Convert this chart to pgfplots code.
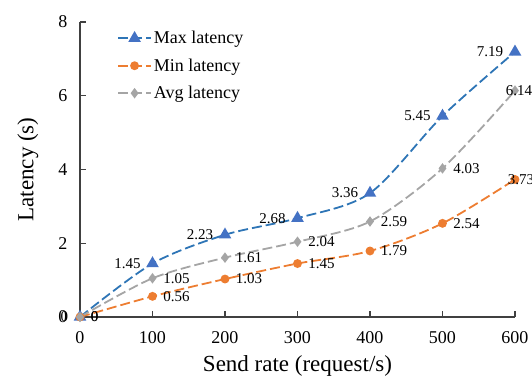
\documentclass[border=0pt]{standalone}
\usepackage{fontspec}
\setmainfont{Liberation Serif}
\usepackage{pgfplots}
\pgfplotsset{compat=1.18}
\pgfkeys{/pgf/number format/assume math mode=true}
\definecolor{maxline}{HTML}{2E75B6}
\definecolor{maxmark}{HTML}{4472C4}
\definecolor{minc}{HTML}{ED7D31}
\definecolor{avgc}{HTML}{A5A5A5}
\begin{document}
\begin{tikzpicture}
\begin{axis}[
  scale only axis, width=435bp, height=295bp,
  xmin=0, xmax=600, ymin=0, ymax=8,
  axis lines=left,
  axis line style={-, black!75, line width=1.1bp},
  xtick={0,100,...,600}, ytick={0,2,...,8},
  tick align=inside, major tick length=6bp,
  tick style={black!75, line width=1.1bp},
  tick label style={font=\fontsize{18bp}{20bp}\selectfont},
  xticklabel style={yshift=-11bp},
  yticklabel style={xshift=-9bp},
  xlabel={Send rate (request/s)}, ylabel={Latency (s)},
  label style={font=\fontsize{23bp}{26bp}\selectfont},
  xlabel style={at={(axis description cs:0.5,-0.166)}, anchor=center},
  ylabel style={at={(axis description cs:-0.12,0.5)}, anchor=center},
  legend style={at={(0.085,0.976)}, anchor=north west, draw=none, fill=none,
    inner sep=0pt, font=\fontsize{18bp}{20bp}\selectfont, row sep=9.5bp,
    cells={anchor=west}},
  legend image code/.code={\draw[mark repeat=2,mark phase=2,#1] plot coordinates {(0bp,0bp) (16.5bp,0bp) (33bp,0bp)};},
  nodes near coords,
  every node near coord/.append style={font=\fontsize{15bp}{17bp}\selectfont, inner sep=0pt, text=black},
  clip=false,
]
\addplot[maxline, line width=1.8bp, dash pattern=on 10bp off 4bp, smooth,
  mark=triangle*, mark size=5.5bp, mark options={solid, fill=maxmark, draw=maxmark},
  every node near coord/.append style={anchor=east, xshift=-11bp}]
  coordinates {(0,0) (100,1.45) (200,2.23) (300,2.68) (400,3.36) (500,5.45) (600,7.19)};
\addlegendentry{Max latency}
\addplot[minc, line width=1.8bp, dash pattern=on 10bp off 4bp, smooth,
  mark=*, mark size=3.5bp, mark options={solid, fill=minc, draw=minc},
  every node near coord/.append style={anchor=west, xshift=10bp},
  coordinate style/.condition={x>550}{xshift=-18bp}]
  coordinates {(0,0) (100,0.56) (200,1.03) (300,1.45) (400,1.79) (500,2.54) (600,3.73)};
\addlegendentry{Min latency}
\addplot[avgc, line width=1.8bp, dash pattern=on 10bp off 4bp, smooth,
  mark=diamond*, mark size=3.8bp, mark options={solid, fill=avgc, draw=avgc},
  every node near coord/.append style={anchor=west, xshift=10bp},
  coordinate style/.condition={x>550}{xshift=-20bp}]
  coordinates {(0,0) (100,1.05) (200,1.61) (300,2.04) (400,2.59) (500,4.03) (600,6.14)};
\addlegendentry{Avg latency}
\end{axis}
\pgfresetboundingbox
\path (-80bp,-60bp) rectangle (452bp,317bp);
\end{tikzpicture}
\end{document}
